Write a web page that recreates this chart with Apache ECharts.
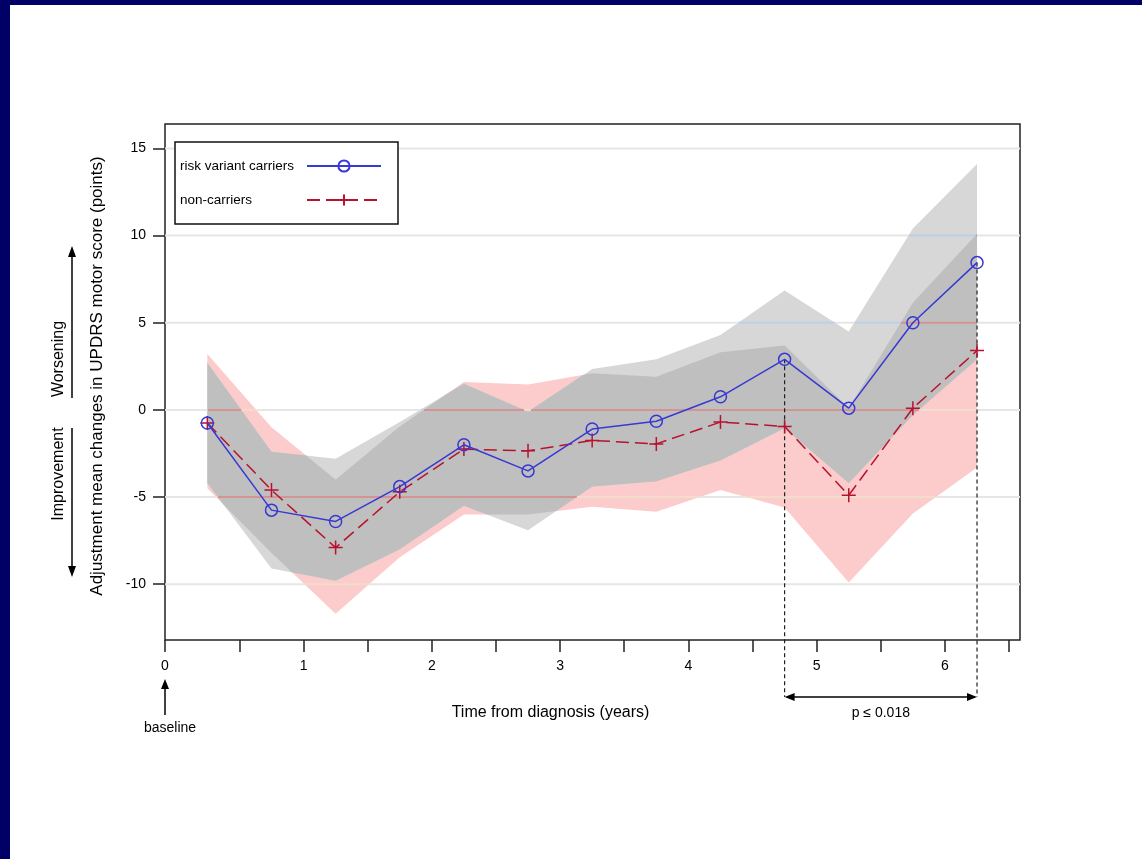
<!DOCTYPE html>
<html>
<head>
<meta charset="utf-8">
<script src="https://cdn.jsdelivr.net/npm/echarts@6/dist/echarts.min.js"></script>
<style>
  html, body { margin: 0; padding: 0; background: #fff; }
  #chart { width: 1142px; height: 859px; }
</style>
</head>
<body>
<div id="chart"></div>
<script>
// Visit times (years from diagnosis)
const years = [0.25, 0.75, 1.25, 1.75, 2.25, 2.75, 3.25, 3.75, 4.25, 4.75, 5.25, 5.75, 6.25];

// Adjusted mean change in UPDRS motor score, risk variant carriers
const carriers      = [-0.75, -5.75, -6.4, -4.4, -2.0, -3.5, -1.1, -0.65, 0.75, 2.9, 0.1, 5.0, 8.45];
const carriersUpper = [2.7, -2.4, -2.8, -0.7, 1.5, -0.1, 2.35, 2.9, 4.3, 6.85, 4.5, 10.4, 14.1];
const carriersLower = [-4.2, -9.1, -9.8, -8.0, -5.5, -6.9, -4.4, -4.1, -2.9, -1.05, -4.2, -0.3, 2.9];

// Adjusted mean change in UPDRS motor score, non-carriers
const nonCarriers   = [-0.75, -4.6, -7.9, -4.7, -2.25, -2.35, -1.75, -1.95, -0.7, -0.95, -4.9, 0.1, 3.4];
const nonUpper      = [3.2, -1.0, -4.0, -0.95, 1.6, 1.45, 2.1, 1.9, 3.3, 3.7, 0.1, 6.15, 10.1];
const nonLower      = [-4.5, -8.2, -11.7, -8.45, -6.0, -6.0, -5.55, -5.85, -4.6, -5.6, -9.9, -5.95, -3.3];

// Axis ticks and labels
const X_MIN = -0.08, X_MAX = 6.585;
const Y_MIN = -13.2, Y_MAX = 16.4;
const xTickValues  = [X_MIN, 0.5, 1, 1.5, 2, 2.5, 3, 3.5, 4, 4.5, 5, 5.5, 6, 6.5];
const xLabelValues = [X_MIN, 1, 2, 3, 4, 5, 6];
const xTickLabels  = ['0', '1', '2', '3', '4', '5', '6'];
const yTicks       = [-10, -5, 0, 5, 10, 15];

// Significant interval
const sigRange = [4.75, 6.25];
const pLabel = 'p \u2264 0.018';

const seriesNames = ['risk variant carriers', 'non-carriers'];

const FONT = 'Liberation Sans, Arial, sans-serif';
const BLUE = '#3838d2';
const RED = '#b8122e';
const PINK = '#fccbcb';
const GREY = '#d7d7d7';
const OVERLAP = '#bfbfbf';

// piecewise linear value of a series at x
function valueAt(vals, x) {
  if (x <= years[0]) return vals[0];
  for (let i = 0; i < years.length - 1; i++) {
    if (x <= years[i + 1]) {
      const t = (x - years[i]) / (years[i + 1] - years[i]);
      return vals[i] + t * (vals[i + 1] - vals[i]);
    }
  }
  return vals[vals.length - 1];
}

// Sampled band where both confidence regions overlap
const overlapUpper = [], overlapLower = [];
(function () {
  const n = 1200, x0 = years[0], x1 = years[years.length - 1];
  for (let k = 0; k <= n; k++) {
    const x = x0 + (x1 - x0) * k / n;
    const lo = Math.max(valueAt(carriersLower, x), valueAt(nonLower, x));
    const up = Math.min(valueAt(carriersUpper, x), valueAt(nonUpper, x));
    overlapUpper.push([x, Math.max(lo, up)]);
    overlapLower.push([x, lo]);
  }
})();

function bandRenderer(upperPts, lowerPts, color) {
  return function (params, api) {
    const pts = upperPts.map(p => api.coord(p))
      .concat(lowerPts.slice().reverse().map(p => api.coord(p)));
    return { type: 'polygon', shape: { points: pts }, style: { fill: color } };
  };
}
const pairs = (vals) => years.map((x, i) => [x, vals[i]]);

// Horizontal reference lines, tinted by the region they cross
const regionColors = ['#e6e6e6', '#bcd0ea', '#f3dccc', '#d39494'];
function regionAt(x, level) {
  if (x < years[0] || x > years[years.length - 1]) return 0;
  const inG = valueAt(carriersLower, x) <= level && level <= valueAt(carriersUpper, x);
  const inP = valueAt(nonLower, x) <= level && level <= valueAt(nonUpper, x);
  return (inG ? 1 : 0) + (inP ? 2 : 0);
}
function renderRefLines(params, api) {
  const children = [];
  const n = 1700;
  const seg = (x0, x1, level, r) => {
    const a = api.coord([x0, level]), b = api.coord([x1, level]);
    children.push({ type: 'line', shape: { x1: a[0], y1: a[1], x2: b[0], y2: b[1] },
      style: { stroke: regionColors[r], lineWidth: 2 } });
  };
  yTicks.forEach(level => {
    let start = X_MIN, cur = regionAt(X_MIN, level);
    for (let k = 1; k <= n; k++) {
      const x = X_MIN + (X_MAX - X_MIN) * k / n;
      const r = regionAt(x, level);
      if (r !== cur) {
        seg(start, x, level, cur);
        start = x; cur = r;
      }
    }
    seg(start, X_MAX, level, cur);
  });
  return { type: 'group', children: children };
}

function arrowHead(x, y, dir) {
  const L = 10, W = 4;
  let pts;
  if (dir === 'left') pts = [[x, y], [x + L, y - W], [x + L, y + W]];
  else if (dir === 'right') pts = [[x, y], [x - L, y - W], [x - L, y + W]];
  else if (dir === 'up') pts = [[x, y], [x - W, y + L], [x + W, y + L]];
  else pts = [[x, y], [x - W, y - L], [x + W, y - L]];
  return { type: 'polygon', shape: { points: pts }, style: { fill: '#000' } };
}

function renderAnnotations(params, api) {
  const children = [];
  const gridBottom = api.coord([X_MIN, Y_MIN])[1];
  const yArrow = gridBottom + 57;
  const xs = sigRange.map(x => api.coord([x, valueAt(carriers, x)]));
  xs.forEach(p => {
    children.push({ type: 'line', shape: { x1: p[0], y1: p[1], x2: p[0], y2: yArrow },
      style: { stroke: '#222', lineWidth: 1.2, lineDash: [4, 3] } });
  });
  children.push({ type: 'line', shape: { x1: xs[0][0] + 4, y1: yArrow, x2: xs[1][0] - 4, y2: yArrow },
    style: { stroke: '#000', lineWidth: 1.5 } });
  children.push(arrowHead(xs[0][0], yArrow, 'left'));
  children.push(arrowHead(xs[1][0], yArrow, 'right'));
  children.push({ type: 'text', x: (xs[0][0] + xs[1][0]) / 2, y: yArrow + 16,
    style: { text: pLabel, align: 'center', verticalAlign: 'middle', font: '14px ' + FONT, fill: '#000' } });

  // baseline marker
  const bx = api.coord([X_MIN, Y_MIN])[0];
  children.push({ type: 'line', shape: { x1: bx, y1: gridBottom + 75, x2: bx, y2: gridBottom + 44 },
    style: { stroke: '#000', lineWidth: 1.5 } });
  children.push(arrowHead(bx, gridBottom + 39, 'up'));
  children.push({ type: 'text', x: bx + 5, y: gridBottom + 88,
    style: { text: 'baseline', align: 'center', verticalAlign: 'middle', font: '14px ' + FONT, fill: '#000' } });
  return { type: 'group', children: children };
}

const chart = echarts.init(document.getElementById('chart'), null, { renderer: 'canvas' });

const option = {
  animation: false,
  backgroundColor: '#fff',
  textStyle: { fontFamily: FONT },
  grid: {
    left: 165, top: 124, width: 855, height: 516,
    show: true, borderColor: '#222', borderWidth: 1.5, backgroundColor: 'transparent'
  },
  xAxis: {
    type: 'value', min: X_MIN, max: X_MAX,
    name: 'Time from diagnosis (years)', nameLocation: 'middle', nameGap: 65,
    nameTextStyle: { fontSize: 16, color: '#000', fontFamily: FONT, padding: [0, 84, 0, 0] },
    axisLine: { show: false, onZero: false },
    axisTick: { show: true, customValues: xTickValues, length: 12, lineStyle: { color: '#222', width: 1.5 } },
    axisLabel: {
      customValues: xLabelValues, margin: 19, fontSize: 14, color: '#000', fontFamily: FONT,
      formatter: (v) => {
        const i = xLabelValues.findIndex(t => Math.abs(t - v) < 1e-6);
        return i >= 0 ? xTickLabels[i] : '';
      }
    },
    splitLine: { show: false }
  },
  yAxis: {
    type: 'value', min: Y_MIN, max: Y_MAX,
    name: 'Adjustment mean changes in UPDRS motor score (points)',
    nameLocation: 'middle', nameRotate: 90, nameGap: 59,
    nameTextStyle: { fontSize: 17, color: '#000', fontFamily: FONT, padding: [0, 0, 0, 12] },
    axisLine: { show: false, onZero: false },
    axisTick: { show: true, customValues: yTicks, length: 12, lineStyle: { color: '#222', width: 1.5 } },
    axisLabel: { customValues: yTicks, margin: 19, fontSize: 14, color: '#000', fontFamily: FONT },
    splitLine: { show: false }
  },
  legend: {
    data: seriesNames,
    left: 175, top: 142,
    orient: 'vertical', align: 'right',
    itemWidth: 74, itemHeight: 14, itemGap: 20,
    padding: [17, 16, 17, 5],
    borderColor: '#111', borderWidth: 1.5, backgroundColor: '#fff',
    formatter: (name) => '{t|' + name + '}',
    textStyle: {
      fontSize: 13.5, color: '#000', fontFamily: FONT,
      rich: { t: { width: 122, align: 'left', fontSize: 13.5, fontFamily: FONT, color: '#000' } }
    },
    z: 10
  },
  graphic: [
    { type: 'rect', left: 0, top: 0, shape: { width: 1142, height: 5 }, style: { fill: '#000066' }, z: 20 },
    { type: 'rect', left: 0, top: 0, shape: { width: 10, height: 859 }, style: { fill: '#000066' }, z: 20 },
    { type: 'text', x: 59, y: 359, rotation: Math.PI / 2,
      style: { text: 'Worsening', align: 'center', verticalAlign: 'middle', font: '16px ' + FONT, fill: '#000' } },
    { type: 'text', x: 59, y: 474, rotation: Math.PI / 2,
      style: { text: 'Improvement', align: 'center', verticalAlign: 'middle', font: '16px ' + FONT, fill: '#000' } },
    { type: 'line', shape: { x1: 72, y1: 398, x2: 72, y2: 254 }, style: { stroke: '#000', lineWidth: 1.5 } },
    { type: 'polygon', shape: { points: [[72, 246], [68, 257], [76, 257]] }, style: { fill: '#000' } },
    { type: 'line', shape: { x1: 72, y1: 428, x2: 72, y2: 568 }, style: { stroke: '#000', lineWidth: 1.5 } },
    { type: 'polygon', shape: { points: [[72, 577], [68, 566], [76, 566]] }, style: { fill: '#000' } }
  ],
  series: [
    {
      name: 'nonCarriersBand', type: 'custom', z: 1, silent: true,
      data: [[years[0], 0]], encode: { x: 0, y: 1 },
      renderItem: bandRenderer(pairs(nonUpper), pairs(nonLower), PINK)
    },
    {
      name: 'carriersBand', type: 'custom', z: 1, silent: true,
      data: [[years[0], 0]], encode: { x: 0, y: 1 },
      renderItem: bandRenderer(pairs(carriersUpper), pairs(carriersLower), GREY)
    },
    {
      name: 'overlapBand', type: 'custom', z: 1, silent: true,
      data: [[years[0], 0]], encode: { x: 0, y: 1 },
      renderItem: bandRenderer(overlapUpper, overlapLower, OVERLAP)
    },
    {
      name: 'refLines', type: 'custom', z: 1, silent: true,
      data: [[years[0], 0]], encode: { x: 0, y: 1 },
      renderItem: renderRefLines
    },
    {
      name: 'annotations', type: 'custom', z: 2, silent: true, clip: false,
      data: [[years[0], 0]], encode: { x: 0, y: 1 },
      renderItem: renderAnnotations
    },
    {
      name: seriesNames[1], type: 'line', z: 3,
      data: pairs(nonCarriers),
      symbol: 'path://M5,0 L5,10 M0,5 L10,5', symbolSize: 14,
      lineStyle: { color: RED, width: 1.5, type: [13, 6] },
      itemStyle: { color: 'rgba(0,0,0,0)', borderColor: RED, borderWidth: 1.5 },
      emphasis: { disabled: true }
    },
    {
      name: seriesNames[0], type: 'line', z: 4,
      data: pairs(carriers),
      symbol: 'circle', symbolSize: 12,
      lineStyle: { color: BLUE, width: 1.5 },
      itemStyle: { color: 'rgba(0,0,0,0)', borderColor: BLUE, borderWidth: 1.5 },
      emphasis: { disabled: true }
    }
  ]
};

chart.setOption(option);
</script>
</body>
</html>
